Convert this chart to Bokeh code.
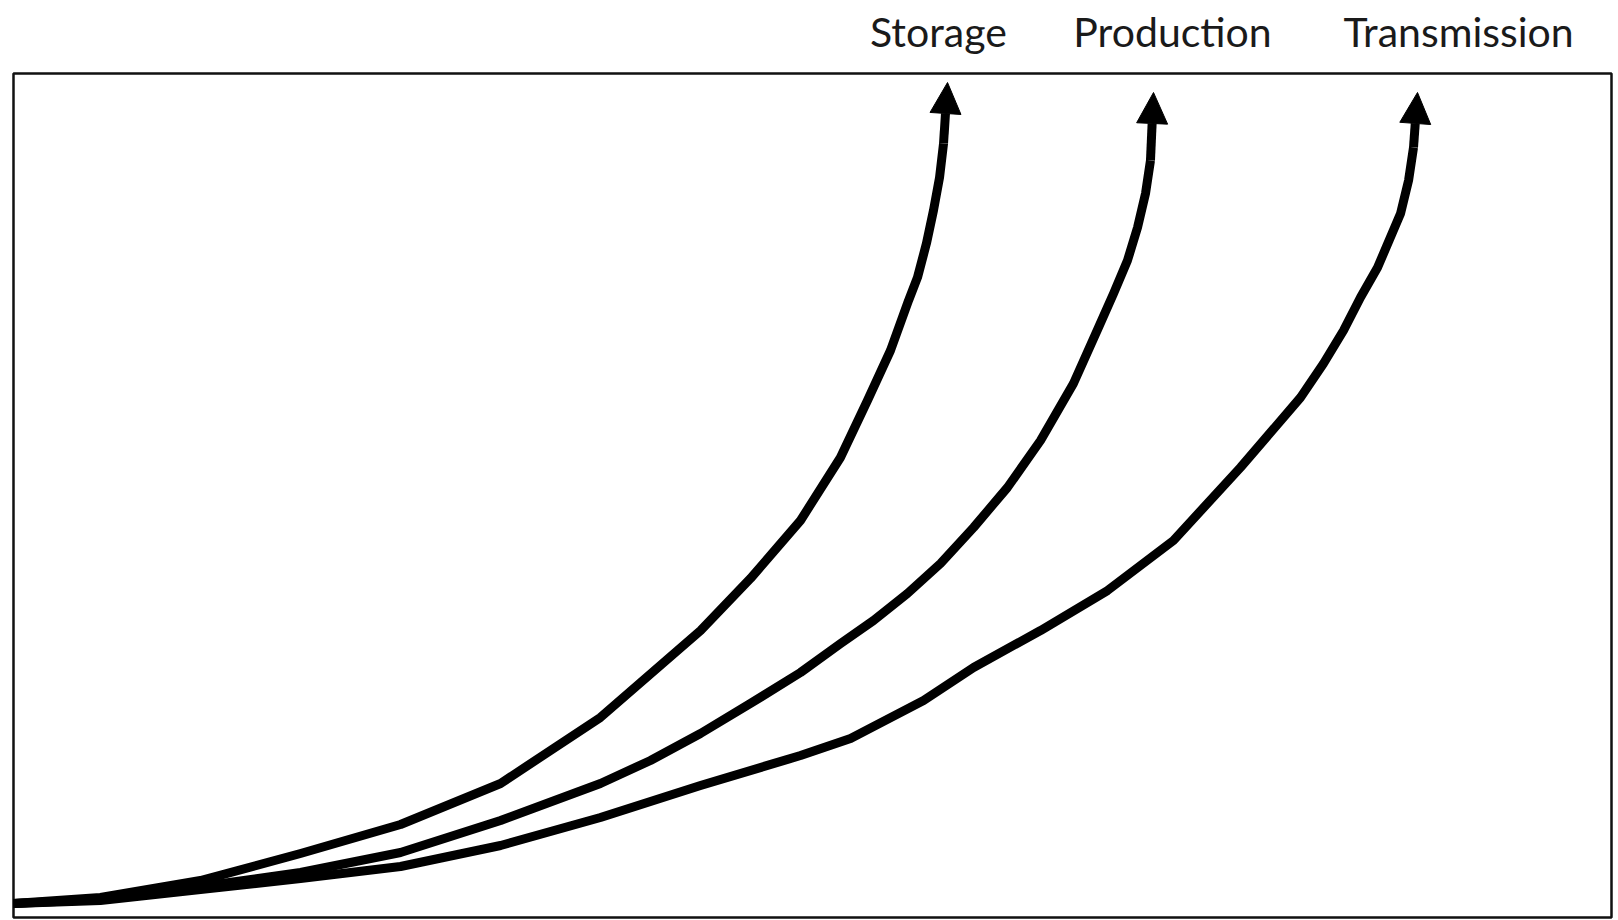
from bokeh.plotting import figure
from bokeh.models import Range1d, Arrow, NormalHead
from bokeh.core.properties import value
from bokeh.embed import file_html
from bokeh.resources import INLINE

# Curves (x: 0-100 across the box, y: 0-100 up the box)
storage_x = [0.0, 5.44, 11.70, 17.96, 24.22, 30.48, 36.73, 42.99, 46.12, 49.25, 51.75, 53.44, 54.88,
             56.01, 56.57, 57.13, 57.57, 57.95, 58.20]
storage_y = [1.66, 2.37, 4.38, 7.58, 11.02, 15.88, 23.70, 34.00, 40.17, 47.04, 54.50, 61.26, 67.18,
             73.10, 75.83, 79.86, 83.77, 87.68, 91.71]
storage_tip = (58.45, 98.93)

production_x = [0.0, 5.44, 11.70, 17.96, 24.22, 30.48, 36.73, 39.86, 42.99, 46.12, 49.25, 51.75, 53.82,
                55.94, 58.01, 60.08, 62.20, 64.27, 66.33, 67.90, 68.84, 69.71, 70.34, 70.84, 71.15]
production_y = [1.66, 2.13, 3.67, 5.33, 7.70, 11.49, 15.88, 18.60, 21.80, 25.36, 29.03, 32.46, 35.19,
                38.39, 41.94, 46.21, 50.95, 56.52, 63.27, 69.91, 73.93, 77.84, 81.75, 85.78, 89.69]
production_tip = (71.34, 97.75)

transmission_x = [0.0, 5.44, 11.70, 17.96, 24.22, 30.48, 36.73, 42.99, 49.25, 52.38, 56.95, 60.08, 64.27,
                  68.46, 72.59, 76.78, 80.54, 81.98, 83.23, 84.29, 85.36, 86.80, 87.30, 87.61]
transmission_y = [1.66, 2.01, 3.32, 4.62, 6.04, 8.53, 11.85, 15.64, 19.19, 21.21, 25.71, 29.62, 34.00,
                  38.74, 44.67, 53.32, 61.61, 65.64, 69.55, 73.46, 77.01, 83.41, 87.32, 91.23]
transmission_tip = (87.86, 97.75)

labels = ["Storage", "Production", "Transmission"]
label_x = [57.88, 72.53, 90.43]
label_y = [105.0, 105.0, 105.0]

# box of the chart in data units
box_left, box_right, box_bottom, box_top = 0, 100, 0, 100

p = figure(width=1616, height=919, output_backend="svg", toolbar_location=None,
           x_range=Range1d(-0.8135, 100.313), y_range=Range1d(-0.237, 108.649),
           x_axis_location=None, y_axis_location=None,
           min_border=0, min_border_left=0, min_border_right=0, min_border_top=0, min_border_bottom=0)
p.grid.visible = False
p.outline_line_color = None
p.background_fill_color = "white"
p.border_fill_color = "white"

p.quad(left=[box_left], right=[box_right], bottom=[box_bottom], top=[box_top],
       fill_color=None, line_color="#111111", line_width=2.5)

series = [
    (storage_x, storage_y, storage_tip),
    (production_x, production_y, production_tip),
    (transmission_x, transmission_y, transmission_tip),
]
for xs, ys, tip in series:
    p.line(xs, ys, line_color="black", line_width=9, line_join="round", line_cap="butt")
    p.add_layout(Arrow(x_start=xs[-1], y_start=ys[-1], x_end=tip[0], y_end=tip[1],
                       line_color="black", line_width=9,
                       end=NormalHead(size=31, fill_color="black", line_color="black", line_width=1)))

p.text(x=label_x, y=label_y, text=labels, text_align="center", text_baseline="alphabetic",
       text_font=value("Lato"), text_font_size="41px", text_color="#1a1a1a")

open("out.html", "w").write(file_html(p, INLINE))
